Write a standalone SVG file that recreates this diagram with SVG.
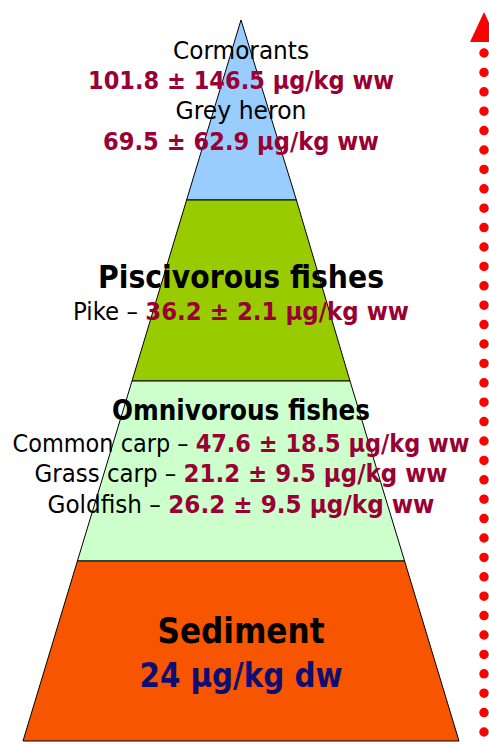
<svg xmlns="http://www.w3.org/2000/svg" width="489" height="742" viewBox="0 0 489 742">
<style>
.layer{stroke:#000;stroke-width:1;stroke-linejoin:round}
text{font-family:"Comic Sans MS","DejaVu Sans","Liberation Sans",sans-serif;text-anchor:middle}
.n{font-size:24px;fill:#000}
.v{font-size:24px;font-weight:bold;fill:#990033}
.h{font-weight:bold;fill:#000}
</style>
<rect width="489" height="742" fill="#fff"/>
<g id="top">
<polygon class="layer" points="241,20 296.4,200 186.6,200" fill="#99ccff"/>
<text class="n" x="241" y="59" textLength="136" lengthAdjust="spacingAndGlyphs">Cormorants</text>
<text class="v" x="241" y="89" textLength="306" lengthAdjust="spacingAndGlyphs">101.8 ± 146.5 μg/kg ww</text>
<text class="n" x="241" y="119" textLength="131" lengthAdjust="spacingAndGlyphs">Grey heron</text>
<text class="v" x="241" y="150" textLength="276" lengthAdjust="spacingAndGlyphs">69.5 ± 62.9 μg/kg ww</text>
</g>
<g id="piscivorous">
<polygon class="layer" points="186.6,200 296.4,200 350,381 132,381" fill="#99cc00"/>
<text class="h" x="241" y="288" font-size="32" textLength="286" lengthAdjust="spacingAndGlyphs">Piscivorous fishes</text>
<text class="n" x="241" y="320" textLength="336" lengthAdjust="spacingAndGlyphs">Pike – <tspan class="v">36.2 ± 2.1 μg/kg ww</tspan></text>
</g>
<g id="omnivorous">
<polygon class="layer" points="132,381 350,381 404.6,561 77.4,561" fill="#ccffcc"/>
<text class="h" x="241" y="420" font-size="28" textLength="258" lengthAdjust="spacingAndGlyphs">Omnivorous fishes</text>
<text class="n" x="241" y="452" textLength="457" lengthAdjust="spacingAndGlyphs">Common carp – <tspan class="v">47.6 ± 18.5 μg/kg ww</tspan></text>
<text class="n" x="241" y="482" textLength="413" lengthAdjust="spacingAndGlyphs">Grass carp – <tspan class="v">21.2 ± 9.5 μg/kg ww</tspan></text>
<text class="n" x="241" y="513" textLength="387" lengthAdjust="spacingAndGlyphs">Goldfish – <tspan class="v">26.2 ± 9.5 μg/kg ww</tspan></text>
</g>
<g id="sediment">
<polygon class="layer" points="77.4,561 404.6,561 459,741 23,741" fill="#f85500"/>
<text class="h" x="241" y="643" font-size="36" textLength="167" lengthAdjust="spacingAndGlyphs">Sediment</text>
<text x="241" y="687" font-size="33" font-weight="bold" fill="#0d0d73" textLength="203" lengthAdjust="spacingAndGlyphs">24 μg/kg dw</text>
</g>
<g id="connectors">
<line x1="484" y1="53" x2="484" y2="760" stroke="#ff0000" stroke-width="9.5" stroke-linecap="round" stroke-dasharray="0 19.4"/>
<polygon points="484,12 470,42 498,42" fill="#ff0000"/>
</g>
</svg>
